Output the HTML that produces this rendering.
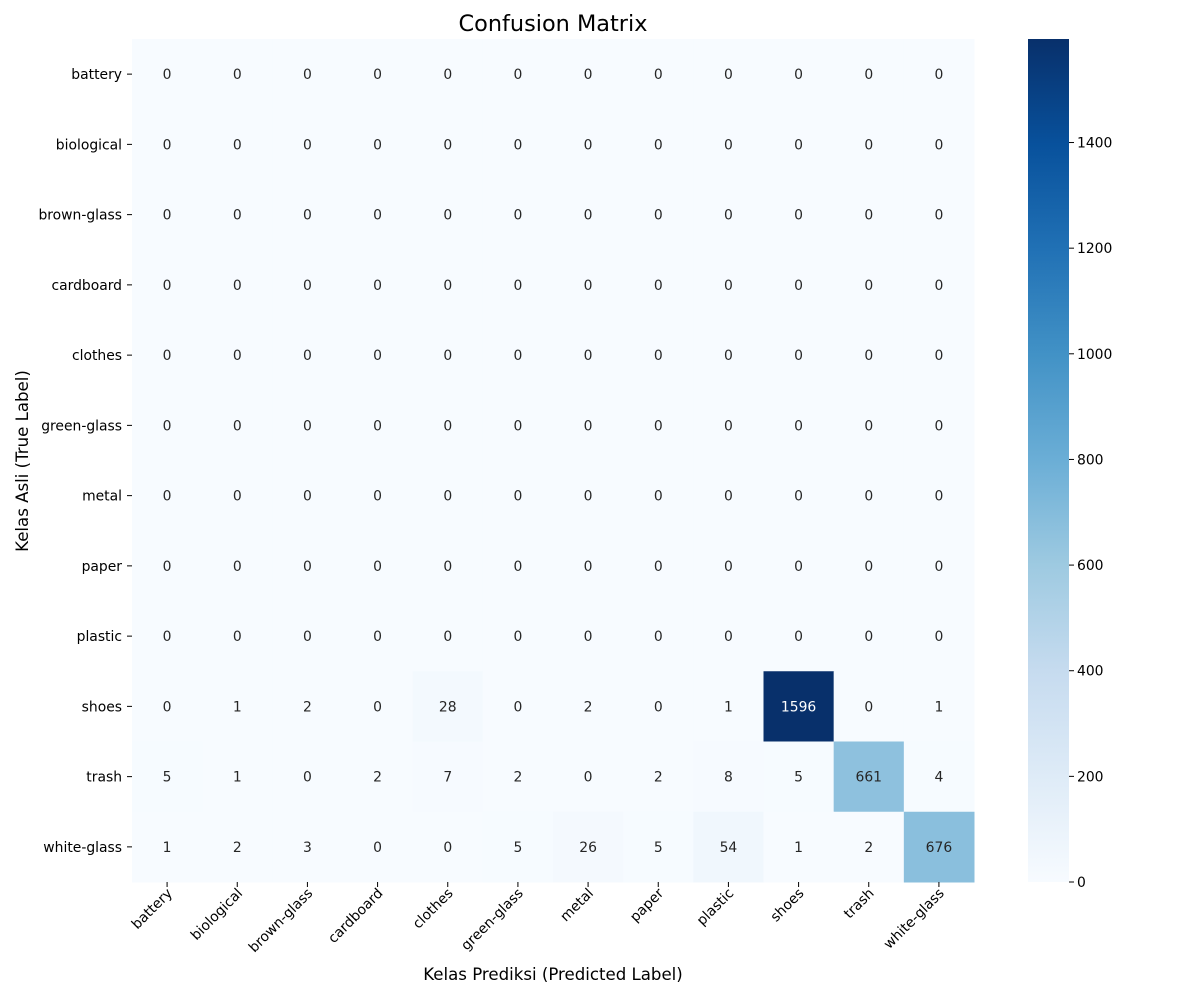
<!DOCTYPE html>
<html><head><meta charset="utf-8"><style>
html,body{margin:0;padding:0;background:#fff;}
svg{display:block;font-family:"DejaVu Sans","Liberation Sans",sans-serif;}
</style></head><body>
<svg id="chart" width="1200" height="1000" viewBox="0 0 1200 1000">
<defs><linearGradient id="cbgrad" x1="0" y1="1" x2="0" y2="0"></linearGradient></defs>
<text x="553" y="31" font-size="22.4" text-anchor="middle" fill="#000">Confusion Matrix</text>
<text x="553" y="980" font-size="16.6" text-anchor="middle" fill="#000">Kelas Prediksi (Predicted Label)</text>
<text x="0" y="0" font-size="16.6" text-anchor="middle" fill="#000" transform="translate(28,461) rotate(-90)">Kelas Asli (True Label)</text>
<g id="cells"></g><g id="ticks"></g><g id="cbar"></g>
</svg>
<script>
const labels = ["battery","biological","brown-glass","cardboard","clothes","green-glass","metal","paper","plastic","shoes","trash","white-glass"];
const row0 = [0,0,0,0,0,0,0,0,0,0,0,0];
const matrix = [
 row0.slice(),row0.slice(),row0.slice(),row0.slice(),row0.slice(),row0.slice(),
 row0.slice(),row0.slice(),row0.slice(),
 [0,1,2,0,28,0,2,0,1,1596,0,1],
 [5,1,0,2,7,2,0,2,8,5,661,4],
 [1,2,3,0,0,5,26,5,54,1,2,676]
];
const cbTicks = [0,200,400,600,800,1000,1200,1400];

const NS="http://www.w3.org/2000/svg";
const X0=132,X1=974,Y0=39,Y1=882;
const FS=13.9;
const n=labels.length, cw=(X1-X0)/n, ch=(Y1-Y0)/n;
const vmax=Math.max(...matrix.flat()), vmin=0;
const blues=[[247,251,255],[222,235,247],[198,219,239],[158,202,225],[107,174,214],[66,146,198],[33,113,181],[8,81,156],[8,48,107]];
function cmap(t){t=Math.max(0,Math.min(1,t));const p=t*8,i=Math.min(7,Math.floor(p)),f=p-i;
 return blues[i].map((c,k)=>Math.round(c+(blues[i+1][k]-c)*f));}
function lum(c){const l=c.map(v=>{v/=255;return v<=0.03928?v/12.92:Math.pow((v+0.055)/1.055,2.4);});return 0.2126*l[0]+0.7152*l[1]+0.0722*l[2];}
function el(tag,attrs,parent,txt){const e=document.createElementNS(NS,tag);for(const k in attrs)e.setAttribute(k,attrs[k]);if(txt!==undefined)e.textContent=txt;parent.appendChild(e);return e;}
const xs=i=>X0+i*cw, ys=j=>Y0+j*ch;
const cells=document.getElementById('cells'), ticks=document.getElementById('ticks'), cbar=document.getElementById('cbar');
matrix.forEach((row,j)=>row.forEach((v,i)=>{
 const c=cmap((v-vmin)/(vmax-vmin));
 const r=el('rect',{x:xs(i),y:ys(j),width:cw+0.5,height:ch+0.5,fill:`rgb(${c})`},cells);
 
 
 const t=el('text',{x:xs(i)+cw/2,y:ys(j)+ch/2+5,'font-size':FS,'text-anchor':'middle',fill:lum(c)>0.408?'#262626':'#ffffff'},cells,String(v));
 
 
}));
labels.forEach((lab,k)=>{
 const cy=ys(k)+ch/2;
 el('line',{x1:X0-5,x2:X0,y1:cy,y2:cy,stroke:'#000','stroke-width':1},ticks);
 const ty=el('text',{x:X0-10,y:cy+5,'font-size':FS,'text-anchor':'end',fill:'#000'},ticks,lab);
 
 
 const cx=xs(k)+cw/2;
 el('line',{x1:cx,x2:cx,y1:Y1,y2:Y1+5,stroke:'#000','stroke-width':1},ticks);
 const tx=el('text',{x:0,y:0,'font-size':FS,'text-anchor':'end',fill:'#000',transform:`translate(${cx+6},${Y1+12}) rotate(-45)`},ticks,lab);
 
 
});
const g=document.getElementById('cbgrad');
blues.forEach((c,i)=>el('stop',{offset:(i/8*100)+'%','stop-color':`rgb(${c})`},g));
const CBX=1028,CBW=41;
const cb=el('rect',{x:CBX,y:Y0,width:CBW,height:Y1-Y0,fill:'url(#cbgrad)'},cbar);


const cbY=v=>Y1-(v-vmin)/(vmax-vmin)*(Y1-Y0);
cbTicks.forEach(v=>{
 const y=cbY(v);
 el('line',{x1:CBX+CBW,x2:CBX+CBW+5,y1:y,y2:y,stroke:'#000','stroke-width':1},cbar);
 const t=el('text',{x:CBX+CBW+8,y:y+5,'font-size':FS,fill:'#000'},cbar,String(v));
 
 
});
</script>
</body></html>
